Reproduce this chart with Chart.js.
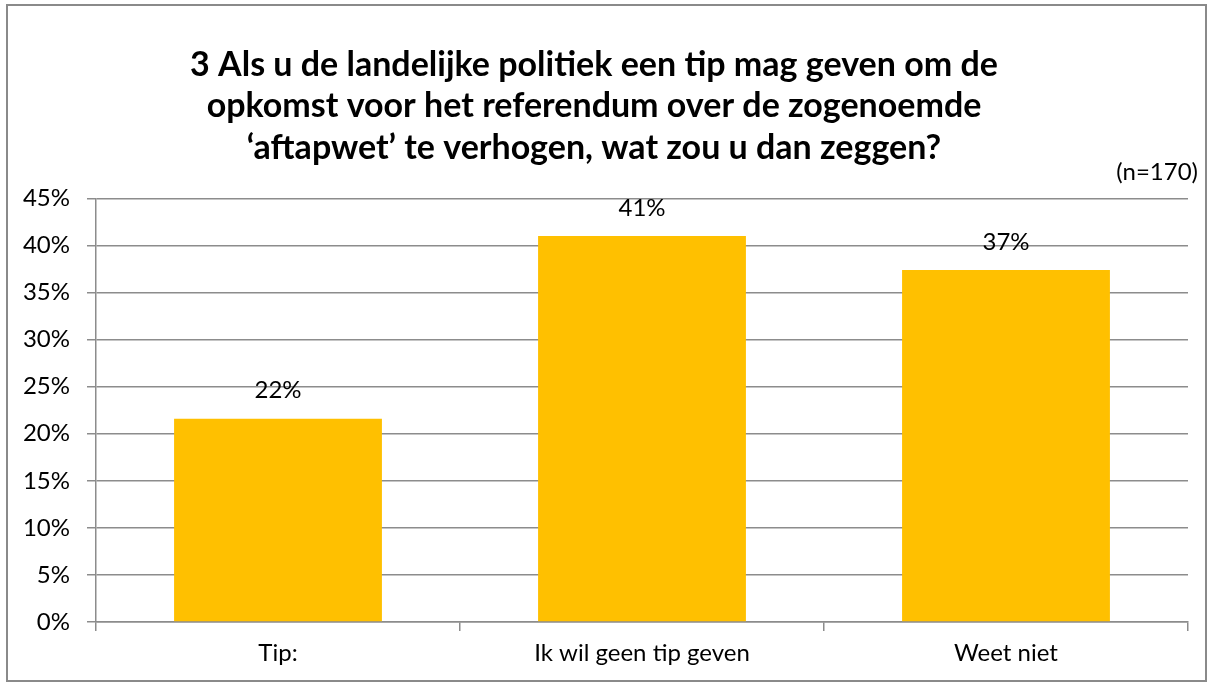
<!DOCTYPE html>
<html>
<head>
<meta charset="utf-8">
<script src="https://cdn.jsdelivr.net/npm/chart.js@4"></script>
<style>
  body { margin: 0; background: #fff; }
  #frame { position: absolute; left: 6px; top: 4px; width: 1197px; height: 674px; border: 2px solid #8a8a8a; }
  #wrap { position: absolute; left: 0; top: 0; width: 1213px; height: 684px; }
</style>
</head>
<body>
<div id="frame"></div>
<div id="wrap"><canvas id="myChart" width="1213" height="684"></canvas></div>
<script>
const categories = ['Tip:', 'Ik wil geen tip geven', 'Weet niet'];
const values = [21.6, 41.0, 37.4];
const valueLabels = ['22%', '41%', '37%'];
const titleLines = [
    '3 Als u de landelijke politiek een tip mag geven om de',
    'opkomst voor het referendum over de zogenoemde',
    '\u2018aftapwet\u2019 te verhogen, wat zou u dan zeggen?'
];
const sampleNote = '(n=170)';

const fontName = 'Lato, "Open Sans", sans-serif';

// labels above the bars and the (n=170) note
const labelPlugin = {
    id: 'labels',
    afterDatasetsDraw(chart) {
        const ctx = chart.ctx;
        const meta = chart.getDatasetMeta(0);
        ctx.save();
        ctx.fillStyle = '#000';
        ctx.font = '24px ' + fontName;
        ctx.textAlign = 'center';
        ctx.textBaseline = 'middle';
        meta.data.forEach((bar, i) => {
            ctx.fillText(valueLabels[i], bar.x, bar.y - 28);
        });
        ctx.textAlign = 'right';
        ctx.fillText(sampleNote, 1198, 172);
        ctx.restore();
    }
};

const ctx = document.getElementById('myChart').getContext('2d');
const myChart = new Chart(ctx, {
    type: 'bar',
    data: {
        labels: categories,
        datasets: [{
            data: values,
            backgroundColor: '#FFC000',
            borderWidth: 0,
            categoryPercentage: 1,
            barPercentage: 0.571
        }]
    },
    options: {
        responsive: false,
        animation: false,
        layout: { padding: { left: 0, right: 25, top: 0, bottom: 0 } },
        plugins: {
            legend: { display: false },
            tooltip: { enabled: false },
            title: {
                display: true,
                text: titleLines,
                color: '#000',
                font: { family: fontName, size: 34, weight: 'bold', lineHeight: 1.22 },
                padding: { top: 44, bottom: 30 }
            }
        },
        scales: {
            y: {
                min: 0,
                max: 45,
                afterFit(scale) { scale.width = 96; },
                ticks: {
                    stepSize: 5,
                    color: '#000',
                    padding: 17,
                    font: { family: fontName, size: 24 },
                    callback: v => v + '%'
                },
                grid: { color: '#8c8c8c', lineWidth: 1.5, tickLength: 9 },
                border: { color: '#8c8c8c', width: 1.5 }
            },
            x: {
                afterFit(scale) { scale.height = 62; },
                ticks: {
                    color: '#000',
                    padding: 8,
                    font: { family: fontName, size: 24 }
                },
                grid: { drawOnChartArea: false, color: '#8c8c8c', lineWidth: 1.5, tickLength: 9 },
                border: { color: '#8c8c8c', width: 1.5 }
            }
        }
    },
    plugins: [labelPlugin]
});
</script>
</body>
</html>
